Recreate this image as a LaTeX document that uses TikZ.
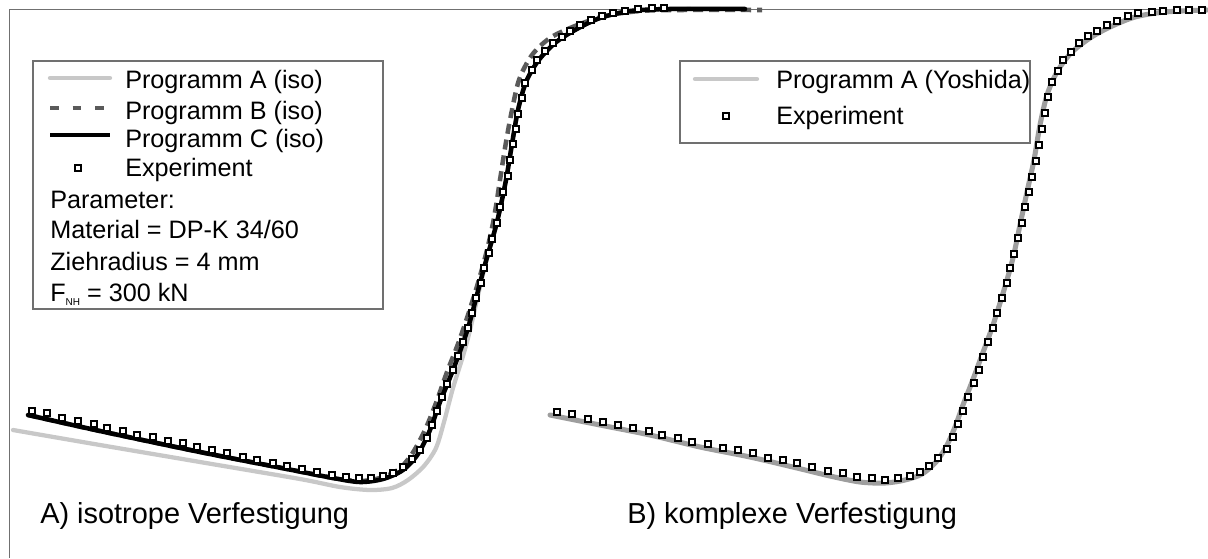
\documentclass[tikz,border=0pt]{standalone}
\usepackage{fontspec}
\setmainfont{Liberation Sans}
\definecolor{cA}{HTML}{C8C8C8}
\definecolor{cB}{HTML}{5A5A5A}
\definecolor{cY}{HTML}{9E9E9E}
\definecolor{frame}{HTML}{707070}
\begin{document}
\begin{tikzpicture}[x=0.75pt,y=-0.75pt,
  lbl/.style={anchor=base west,inner sep=0pt,font=\fontsize{18.9}{22}\selectfont},
  caplbl/.style={anchor=base west,inner sep=0pt,font=\fontsize{21.7}{25}\selectfont},
  expmark/.style={rectangle,draw=black,fill=white,line width=1.9pt,minimum size=4.3pt,inner sep=0pt},
  curveA/.style={draw=cA,line width=3.2pt,line cap=round,line join=round},
  curveB/.style={draw=cB,line width=3.4pt,dash pattern=on 7.5pt off 4.5pt},
  curveC/.style={draw=black,line width=3.4pt,line cap=round,line join=round},
  curveY/.style={draw=cY,line width=3.8pt,line cap=round,line join=round},
  legbox/.style={draw=frame,line width=0.8pt,fill=white},
  framestyle/.style={draw=frame,line width=0.9pt}]
\useasboundingbox (0,0) rectangle (1208,558);
% frame
\coordinate (fo) at (9.5,9.5);
\coordinate (fr) at (1208,9.5);
\coordinate (fb) at (9.5,558);
\draw[framestyle] (fr) -- (fo) -- (fb);

% legend A
\draw[legbox] (33,61) rectangle (383,309);
\coordinate (la1) at (50,78); \coordinate (la2) at (110,78);
\coordinate (lb1) at (50,108); \coordinate (lb2) at (110,108);
\coordinate (lc1) at (50,135); \coordinate (lc2) at (110,135);
\draw[curveA] (la1) -- (la2);
\draw[draw=cB,line width=3.2pt,dash pattern=on 6.5pt off 10.5pt] (lb1) -- (lb2);
\draw[draw=black,line width=3.2pt] (lc1) -- (lc2);
\node[expmark] (lem) at (78,168) {};
\node[lbl] (ta) at (125,88) {Programm A (iso)};
\node[lbl] (tb) at (125,119) {Programm B (iso)};
\node[lbl] (tc) at (125,147) {Programm C (iso)};
\node[lbl] (te) at (125,176) {Experiment};
\node[lbl] (tp) at (50,208) {Parameter:};
\node[lbl] (tm) at (50,238) {Material = DP-K 34/60};
\node[lbl] (tz) at (50,270) {Ziehradius = 4 mm};
\node[lbl] (tf) at (50,301) {F\raisebox{-0.35ex}{\fontsize{7.5}{8}\selectfont NH} = 300 kN};

% legend B
\draw[legbox] (680,61) rectangle (1030,143);
\coordinate (ly1) at (695,79); \coordinate (ly2) at (757,79);
\draw[curveA] (ly1) -- (ly2);
\node[expmark] (lem2) at (726,116) {};
\node[lbl] (ty) at (776,88) {Programm A (Yoshida)};
\node[lbl] (te2) at (776,124) {Experiment};

% panel A curves
\draw[curveA] plot[smooth,tension=0.5] coordinates {(13,430) (100,445) (200,462) (300,479) (340,487) (370,490) (392,488) (408,480) (424,466) (436,448) (444,422) (453,388) (463,356) (470,330) (484,270) (497,222) (506,180) (512,144) (518,110) (526,82) (538,61) (555,43) (575,30) (600,18) (630,11) (670,9) (720,9)};
\draw[curveB] plot[smooth,tension=0.5] coordinates {(28,415) (100,431) (200,452) (287,469) (333,478) (360,481) (380,478) (398,470) (412,454) (425,430) (436,403) (447,372) (458,344) (468,315) (478,283) (487,250) (494,218) (500,180) (505,148) (511,115) (519,80) (532,55) (550,38) (575,26) (605,16) (640,11) (680,10) (762,10)};
\draw[curveC] plot[smooth,tension=0.5] coordinates {(28,415) (100,431) (200,452) (287,469) (333,478) (360,482) (383,479) (403,470) (418,454) (430,430) (440,402) (453,370) (468,328) (484,268) (497,222) (506,180) (512,144) (518,110) (526,82) (538,61) (555,43) (575,30) (600,18) (630,11) (670,9) (745,9)};
\foreach \x/\y [count=\i] in {32/411, 47/413, 62/418, 78/421, 94/424, 107/428, 123/431, 137/435, 153/437, 168/441, 183/443, 197/447, 212/450, 227/453, 243/457, 257/460, 273/463, 287/466, 302/469, 317/472, 332/475, 346/477, 359/478, 371/478, 383/476, 393/473, 403/467, 412/459, 420/450, 427/438, 432/425, 437/411, 442/397, 447/384, 453/370, 458/356, 463/342, 468/328, 472/313, 476/298, 481/283, 484/268, 489/253, 492/239, 497/223, 500/207, 503/192, 508/176, 510/160, 513/144, 516/129, 518/114, 522/98, 525/83, 532/70, 537/60, 545/51, 553/43, 562/37, 570/31, 580/25, 591/20, 602/16, 613/13, 625/11, 638/9, 652/8, 664/8}
  \node[expmark] (ea\i) at (\x,\y) {};

% panel B curves
\draw[curveY] plot[smooth,tension=0.5] coordinates {(550,415) (600,425) (650,435) (700,447) (750,457) (797,468) (830,476) (860,482) (885,483) (905,480) (922,474) (936,462) (946,447) (955,427) (963,405) (972,382) (982,355) (993,325) (1004,290) (1013,258) (1020,225) (1027,192) (1034,160) (1040,125) (1047,95) (1057,72) (1071,53) (1090,38) (1110,27) (1135,17) (1165,12) (1207,10)};
\foreach \x/\y [count=\i] in {557/412, 572/414, 588/419, 603/422, 618/425, 633/428, 649/431, 662/435, 678/438, 692/442, 708/444, 723/448, 738/450, 753/453, 768/458, 783/460, 797/463, 812/467, 828/471, 843/473, 857/477, 872/478, 885/480, 898/478, 910/476, 920/472, 929/466, 938/458, 947/449, 953/437, 958/424, 963/411, 968/397, 974/383, 979/370, 983/357, 988/342, 993/328, 997/313, 1002/298, 1007/283, 1010/268, 1014/254, 1018/238, 1022/223, 1025/207, 1029/192, 1032/177, 1036/161, 1039/145, 1042/129, 1045/113, 1048/97, 1052/82, 1058/71, 1063/60, 1071/52, 1079/43, 1088/36, 1097/31, 1107/25, 1117/21, 1128/16, 1138/13, 1152/12, 1163/11, 1177/10, 1189/10, 1202/10}
  \node[expmark] (eb\i) at (\x,\y) {};

% panel labels
\node[caplbl] (capA) at (40,523) {A) isotrope Verfestigung};
\node[caplbl] (capB) at (627,523) {B) komplexe Verfestigung};
\end{tikzpicture}
\end{document}
